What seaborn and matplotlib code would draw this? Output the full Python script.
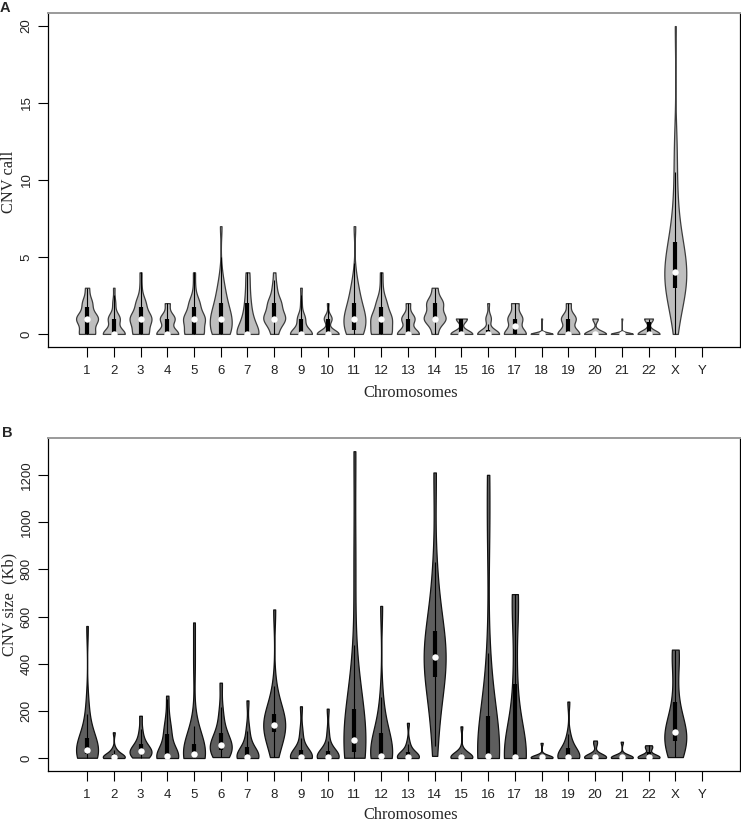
import numpy as np
import pandas as pd
import matplotlib
matplotlib.use("Agg")
import matplotlib.pyplot as plt
import seaborn as sns

# ---------------- data ----------------
chromosomes = ["1", "2", "3", "4", "5", "6", "7", "8", "9", "10", "11", "12",
               "13", "14", "15", "16", "17", "18", "19", "20", "21", "22", "X", "Y"]

# Panel A: number of samples having 0, 1, 2, ... CNV calls on each chromosome
cnv_call_freq = [
    [8, 11, 5, 2],                 # 1
    [15, 8, 2, 1],                 # 2
    [8, 11, 5, 1, 1],              # 3
    [9, 6, 2],                     # 4
    [9, 10, 5, 1, 1],              # 5
    [8, 9, 5, 3, 1, 0, 0, 1],      # 6
    [13, 5, 3, 2, 2],              # 7
    [3, 10, 6, 2, 1],              # 8
    [14, 5, 1, 1],                 # 9
    [14, 5, 1],                    # 10
    [7, 9, 5, 3, 1, 0, 0, 1],      # 11
    [8, 8, 4, 1, 1],               # 12
    [10, 6, 2],                    # 13
    [2, 8, 6, 2],                  # 14
    [10, 5],                       # 15
    [12, 3, 1],                    # 16
    [9, 6, 3],                     # 17
    [20, 1],                       # 18
    [9, 6, 2],                     # 19
    [12, 3],                       # 20
    [22, 1],                       # 21
    [10, 4],                       # 22
    [1, 2, 5, 7, 9, 6, 5, 2, 2, 1, 1, 1, 1, 1, 0, 0, 0, 0, 0, 0, 1],  # X
    [],                            # Y
]

# Panel B: CNV sizes (Kb) on each chromosome
cnv_size_kb = [
    [2, 5, 8, 10, 14, 18, 22, 26, 30, 35, 42, 50, 60, 75, 95, 130, 170, 240, 560],
    [1, 1, 2, 2, 3, 3, 4, 5, 6, 8, 12, 20, 30, 40, 110],
    [3, 8, 12, 18, 22, 26, 30, 34, 40, 50, 65, 85, 120, 180],
    [1, 1, 2, 2, 3, 3, 4, 5, 10, 30, 60, 100, 110, 130, 180, 265],
    [1, 2, 4, 6, 8, 10, 12, 15, 18, 22, 30, 45, 60, 90, 150, 400, 575],
    [5, 10, 20, 30, 40, 45, 50, 55, 65, 80, 95, 120, 160, 210, 320],
    [1, 1, 2, 2, 3, 4, 5, 6, 10, 20, 40, 55, 90, 130, 245],
    [5, 40, 80, 100, 115, 125, 135, 140, 145, 155, 170, 185, 200, 230, 300, 630],
    [1, 1, 2, 2, 3, 3, 4, 5, 8, 15, 30, 40, 80, 120, 220],
    [1, 1, 2, 2, 3, 3, 4, 5, 8, 15, 25, 35, 60, 110, 210],
    [2, 5, 10, 20, 30, 45, 60, 70, 85, 110, 150, 190, 260, 400, 830, 1300],
    [1, 1, 2, 3, 4, 5, 6, 10, 25, 60, 100, 110, 150, 250, 645],
    [1, 1, 2, 2, 3, 4, 5, 6, 8, 12, 20, 30, 45, 70, 150],
    [10, 150, 250, 320, 370, 390, 410, 430, 450, 480, 520, 560, 650, 800, 1210],
    [1, 1, 2, 2, 3, 3, 4, 5, 6, 8, 12, 20, 35, 135],
    [1, 1, 2, 2, 3, 3, 4, 5, 8, 20, 50, 100, 180, 280, 400, 950, 1200],
    [1, 1, 2, 2, 3, 3, 4, 4, 5, 5, 8, 20, 60, 150, 300, 350, 600, 660, 690, 695],
    [1, 1, 2, 2, 3, 3, 4, 5, 6, 8, 10, 65],
    [1, 1, 2, 2, 3, 4, 5, 6, 10, 20, 35, 50, 70, 100, 240],
    [1, 1, 2, 3, 4, 5, 6, 8, 10, 15, 60, 75],
    [1, 1, 2, 2, 3, 4, 5, 6, 8, 10, 70],
    [1, 2, 3, 4, 5, 6, 8, 10, 40, 50, 55],
    [5, 20, 40, 60, 75, 90, 100, 105, 115, 130, 160, 220, 300, 420, 450, 460],
    [],
]

call_ticks = [0, 5, 10, 15, 20]
size_ticks = [0, 200, 400, 600, 800, 1000, 1200]

# ---------------- build long tables ----------------
rows_a = []
for chrom, freq in zip(chromosomes, cnv_call_freq):
    vals = np.repeat(np.arange(len(freq)), freq)
    rows_a += [(chrom, float(v)) for v in vals]
df_a = pd.DataFrame(rows_a, columns=["chrom", "calls"])

rows_b = []
for chrom, sizes in zip(chromosomes, cnv_size_kb):
    rows_b += [(chrom, float(v)) for v in sizes]
df_b = pd.DataFrame(rows_b, columns=["chrom", "size"])

# ---------------- figure ----------------
sns.set_theme(style="white")
plt.rcParams["font.family"] = ["Liberation Sans", "DejaVu Sans"]

W, H = 741, 824
fig = plt.figure(figsize=(W / 100, H / 100), dpi=100)


def px_axes(left, top, right, bottom):
    return fig.add_axes([left / W, 1 - bottom / H, (right - left) / W, (bottom - top) / H])


ax_a = px_axes(48, 13, 740, 347)
ax_b = px_axes(48, 438, 740, 771)

tick_font = dict(family=["Liberation Sans Narrow", "Liberation Sans", "DejaVu Sans"], size=9.5)
serif = ["Liberation Serif", "DejaVu Serif"]


def draw_panel(ax, df, col, fill, edge, ylim, yticks, bw_adjust):
    sns.violinplot(data=df, x="chrom", y=col, order=chromosomes, cut=0,
                   density_norm="width", width=0.82, inner=None, color=fill,
                   saturation=1, linecolor=edge, linewidth=0.9, bw_adjust=bw_adjust, ax=ax)
    # R vioplot style inner box: whiskers, IQR bar, white median dot
    for i, chrom in enumerate(chromosomes):
        obs = df.loc[df["chrom"] == chrom, col].to_numpy()
        if obs.size == 0:
            continue
        q1, med, q3 = np.percentile(obs, [25, 50, 75])
        iqr = q3 - q1
        lo = max(obs.min(), q1 - 1.5 * iqr)
        hi = min(obs.max(), q3 + 1.5 * iqr)
        ax.plot([i, i], [lo, hi], color="black", lw=0.8, solid_capstyle="butt", zorder=3)
        ax.plot([i, i], [q1, q3], color="black", lw=3.0, solid_capstyle="butt", zorder=4)
        ax.plot([i], [med], marker="o", ms=4.6, mfc="white", mec="white", mew=0, zorder=5)
    ax.set_xlim(-1.46, 24.42)
    ax.set_ylim(*ylim)
    ax.set_yticks(yticks)
    ax.set_yticklabels([str(t) for t in yticks], rotation=90, va="center", **tick_font)
    ax.set_xticks(range(len(chromosomes)))
    ax.set_xticklabels(chromosomes, **tick_font)
    ax.tick_params(axis="both", direction="out", length=7, width=0.8, color="black",
                   bottom=True, left=True, labelcolor="#222222")
    ax.tick_params(axis="x", pad=6)
    ax.tick_params(axis="y", pad=4)
    ax.set_xlabel("")
    ax.set_ylabel("")
    for side in ["left", "right", "bottom", "top"]:
        ax.spines[side].set_visible(True)
        ax.spines[side].set_color("black")
        ax.spines[side].set_linewidth(0.9)
    ax.spines["top"].set_color("#9a9a9a")
    ax.spines["top"].set_linewidth(1.4)


draw_panel(ax_a, df_a, "calls", "#bebebe", "#3c3c3c", (-0.85, 20.85), call_ticks, 0.85)
draw_panel(ax_b, df_b, "size", "#5e5e5e", "#111111", (-54, 1356), size_ticks, 0.9)

# axis titles (serif, like base R)
fig.text(411 / W, 1 - 393 / H, "Chromosomes", ha="center", va="center", family=serif, size=11.8)
fig.text(411 / W, 1 - 815 / H, "Chromosomes", ha="center", va="center", family=serif, size=11.8)
fig.text(9 / W, 1 - 182 / H, "CNV call", ha="center", va="center", rotation=90, family=serif, size=11.8)
fig.text(9 / W, 1 - 604 / H, "CNV size  (Kb)", ha="center", va="center", rotation=90, family=serif, size=11.8)

# panel letters
fig.text(5 / W, 1 - 8 / H, "A", ha="center", va="center", weight="bold", size=10.5)
fig.text(7 / W, 1 - 433 / H, "B", ha="center", va="center", weight="bold", size=10.5)

fig.savefig("out.png", dpi=100)
